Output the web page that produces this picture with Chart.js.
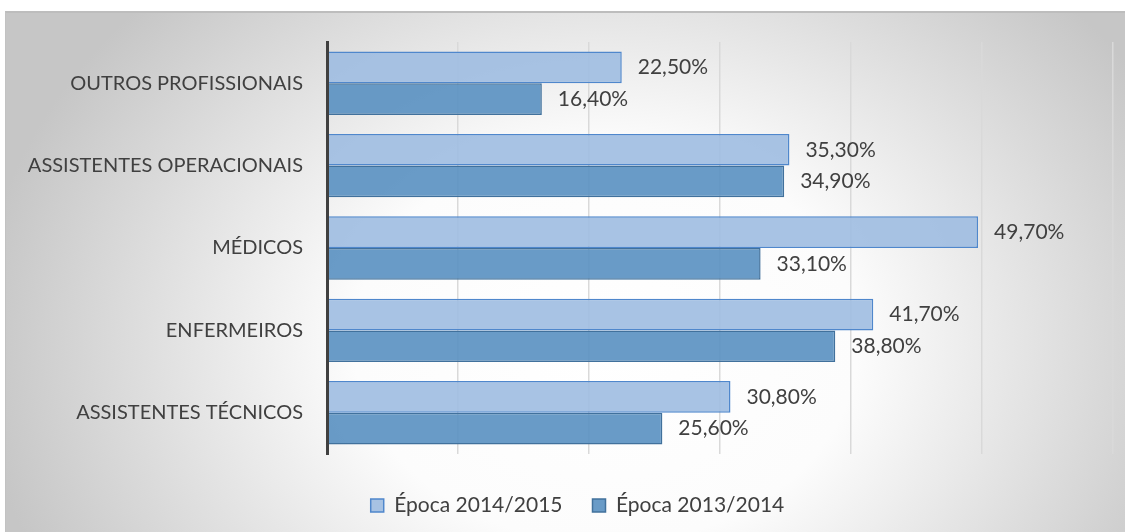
<!DOCTYPE html>
<html>
<head>
<meta charset="utf-8">
<script src="https://cdn.jsdelivr.net/npm/chart.js@4.4.0/dist/chart.umd.min.js"></script>
<style>
  html, body { margin: 0; padding: 0; background: #fff; width: 1125px; height: 532px; overflow: hidden; }
  #box {
    position: absolute; left: 5px; top: 11px; width: 1120px; height: 521px;
    border-top: 2px solid #bdbdbd; border-left: 1px solid #c2c2c2;
    background: radial-gradient(ellipse 630px 500px at 600px 330px, #ffffff 0%, #fcfcfc 40%, #c6c6c6 100%);
  }
  #chart { position: absolute; left: 0; top: 0; }
</style>
</head>
<body>
<div id="box"><canvas id="chart" width="1119" height="519"></canvas></div>
<script>
// dados do gráfico
const categorias = ['OUTROS PROFISSIONAIS', 'ASSISTENTES OPERACIONAIS', 'MÉDICOS', 'ENFERMEIROS', 'ASSISTENTES TÉCNICOS'];
const epoca1415 = [22.5, 35.3, 49.7, 41.7, 30.8];
const epoca1314 = [16.4, 34.9, 33.1, 38.8, 25.6];
const nomesSeries = ['Época 2014/2015', 'Época 2013/2014'];
const eixoX = { min: 0, max: 60, passo: 10 };

const fonte = 'Lato';
const corTexto = '#404040';

// rótulos de valor à direita das barras
const rotulosBarras = {
    id: 'rotulosBarras',
    afterDatasetsDraw(chart) {
        const ctx = chart.ctx;
        ctx.save();
        ctx.font = '21px ' + fonte;
        ctx.fillStyle = corTexto;
        ctx.textAlign = 'left';
        ctx.textBaseline = 'middle';
        chart.data.datasets.forEach((ds, i) => {
            chart.getDatasetMeta(i).data.forEach((bar, j) => {
                const txt = ds.data[j].toFixed(2).replace('.', ',') + '%';
                ctx.fillText(txt, bar.x + 16, bar.y);
            });
        });
        ctx.restore();
    }
};

// deslocar a legenda um pouco para a direita, como no original
const moverLegenda = {
    id: 'moverLegenda',
    afterLayout(chart) {
        chart.legend.left += 18;
        chart.legend.right += 18;
    }
};

new Chart(document.getElementById('chart'), {
    type: 'bar',
    data: {
        labels: categorias,
        datasets: [
            {
                label: nomesSeries[0],
                data: epoca1415,
                backgroundColor: 'rgba(159, 189, 225, 0.9)',
                borderColor: '#4f87cc',
                borderWidth: 1.5
            },
            {
                label: nomesSeries[1],
                data: epoca1314,
                backgroundColor: 'rgba(89, 144, 193, 0.9)',
                borderColor: '#41719c',
                borderWidth: 1.5
            }
        ]
    },
    options: {
        indexAxis: 'y',
        responsive: false,
        animation: false,
        devicePixelRatio: 1,
        categoryPercentage: 0.77,
        barPercentage: 1.0,
        layout: { padding: { left: 0, top: 29, right: 12, bottom: 6 } },
        scales: {
            x: {
                min: eixoX.min,
                max: eixoX.max,
                ticks: { stepSize: eixoX.passo, display: false },
                grid: { color: '#d9d9d9', lineWidth: 1.5, drawTicks: false },
                border: { display: false },
                afterFit(s) { s.height = 11; }
            },
            y: {
                grid: { display: false, drawTicks: false },
                border: { color: '#404040', width: 3, z: 1 },
                ticks: { color: corTexto, font: { family: fonte, size: 20 }, padding: 24 },
                afterFit(s) {
                    s.width = 321;
                    s.paddingTop = 0;
                    s.paddingBottom = 0;
                }
            }
        },
        plugins: {
            legend: {
                position: 'bottom',
                labels: {
                    color: corTexto,
                    font: { family: fonte, size: 21 },
                    boxWidth: 13,
                    boxHeight: 13,
                    padding: 30
                }
            },
            tooltip: { enabled: false }
        }
    },
    plugins: [rotulosBarras, moverLegenda]
});
</script>
</body>
</html>
